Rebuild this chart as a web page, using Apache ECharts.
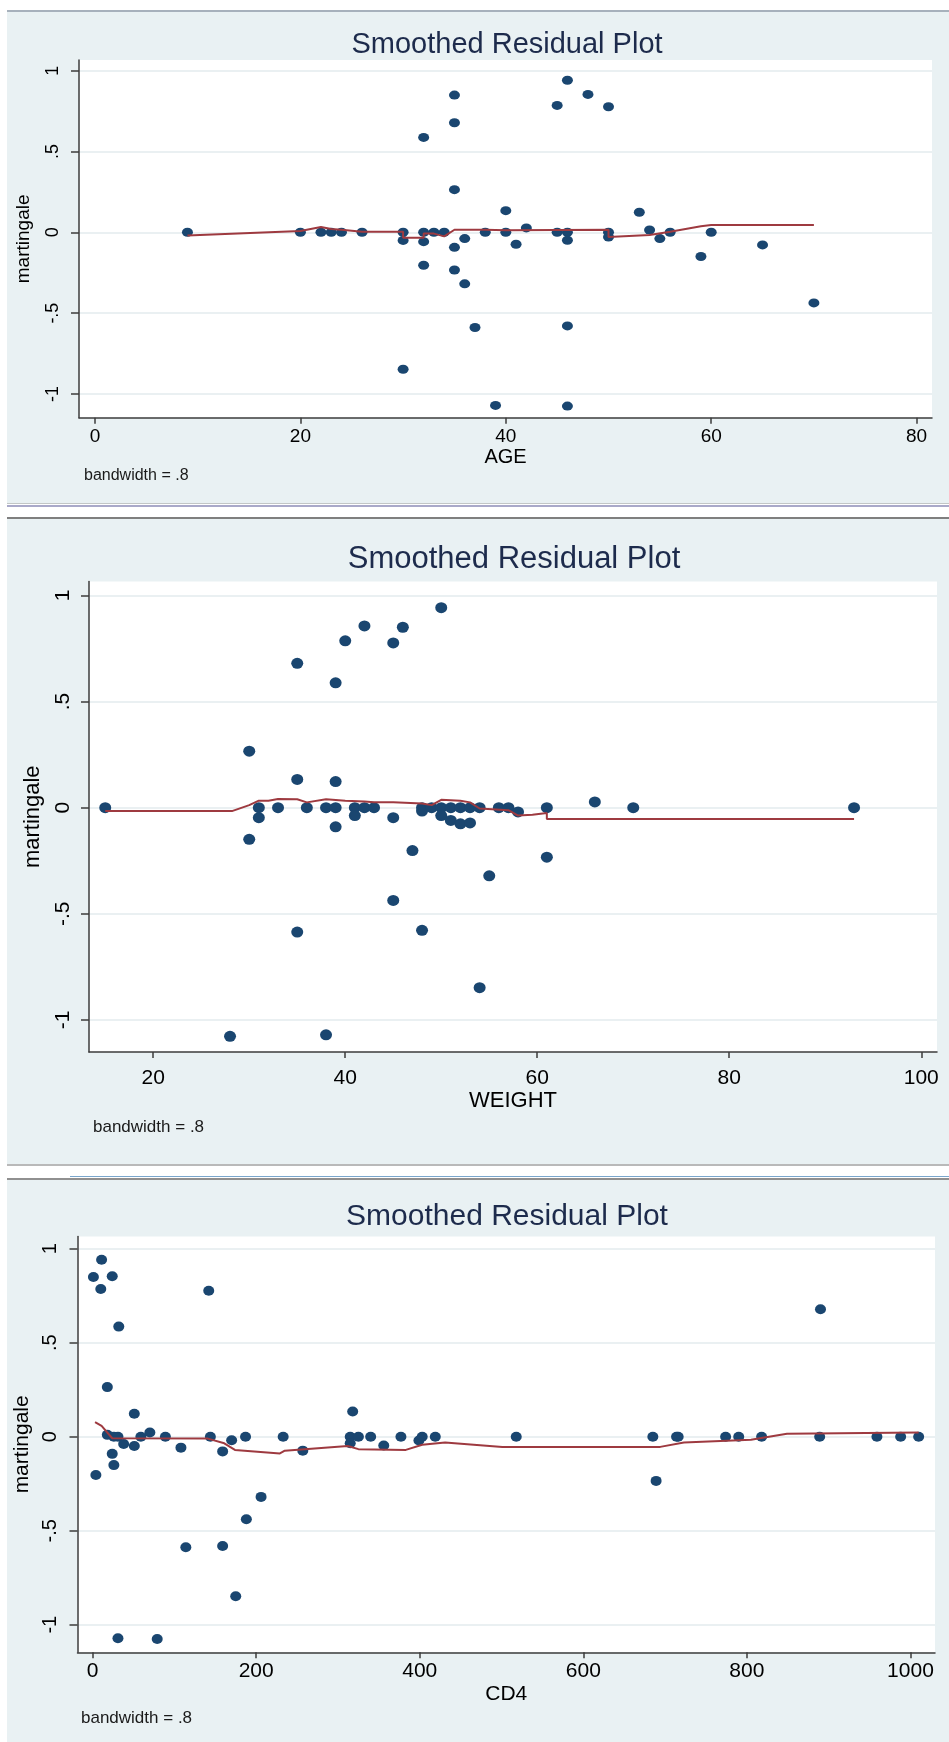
<!DOCTYPE html>
<html>
<head>
<meta charset="utf-8">
<style>
html, body { margin: 0; padding: 0; background: #fff; }
#main { width: 949px; height: 1742px; }
</style>
<script src="https://cdn.jsdelivr.net/npm/echarts@6/dist/echarts.min.js"></script>
</head>
<body>
<div id="main"></div>
<script>
// tick labels
var ageTicks = [0, 20, 40, 60, 80];
var weightTicks = [20, 40, 60, 80, 100];
var cd4Ticks = [0, 200, 400, 600, 800, 1000];
var martTicks = [-1, -0.5, 0, 0.5, 1];

// martingale residuals, [covariate, residual]
var ageResid = [
    [9, 0], [20, 0], [22, 0], [23, 0], [24, 0], [26, 0], [30, 0], [30, -0.05], [30, -0.847],
    [32, 0.587], [32, 0], [32, -0.058], [32, -0.204], [33, 0], [34, 0],
    [35, 0.849], [35, 0.678], [35, 0.264], [35, -0.093], [35, -0.233], [36, -0.039], [36, -0.319],
    [37, -0.589], [38, 0], [39, -1.071], [40, 0.134], [40, 0], [41, -0.074], [42, 0.027],
    [45, 0.785], [45, 0], [46, 0.941], [46, 0], [46, -0.049], [46, -0.579], [46, -1.075],
    [48, 0.853], [50, 0.777], [50, 0], [50, -0.029], [53, 0.124], [54, 0.014], [55, -0.039],
    [56, 0], [59, -0.15], [60, 0], [65, -0.078], [70, -0.437]
];
var ageSmooth = [
    [9, -0.02], [20, 0.008], [22, 0.033], [23, 0.02], [24, 0.016], [26, 0.004], [30, 0.004],
    [30, -0.033], [32, -0.033], [32, -0.008], [33, -0.008], [34, -0.025], [35, 0.016], [38, 0.016],
    [40, 0.012], [50, 0.016], [50, -0.029], [54, -0.016], [56, 0.004], [59, 0.037], [60, 0.045], [70, 0.045]
];

var weightResid = [
    [15, 0], [28, -1.077], [30, 0.266], [30, -0.149], [31, 0], [31, -0.047], [33, 0],
    [35, 0.68], [35, 0.133], [35, -0.586], [36, 0], [38, 0], [38, -1.07],
    [39, 0.588], [39, 0.123], [39, 0], [39, -0.09], [40, 0.786], [41, 0], [41, -0.037],
    [42, 0.856], [42, 0], [43, 0], [45, 0.776], [45, -0.047], [45, -0.437], [46, 0.85],
    [47, -0.202], [48, 0], [48, -0.016], [48, -0.578], [49, 0], [50, 0.942], [50, 0], [50, -0.037],
    [51, 0], [51, -0.06], [52, 0], [52, -0.076], [53, 0], [53, -0.072], [54, 0], [54, -0.848],
    [55, -0.321], [56, 0], [57, 0], [58, -0.02], [61, 0], [61, -0.233], [66, 0.027], [70, 0], [93, 0]
];
var weightSmooth = [
    [15, -0.016], [28.2, -0.016], [30, 0.012], [31, 0.033], [32, 0.033], [33, 0.041], [35, 0.04],
    [36, 0.025], [38, 0.04], [40, 0.033], [42, 0.029], [43, 0.025], [45, 0.025], [48, 0.02],
    [49, 0.012], [50, 0.037], [52, 0.033], [53, 0.025], [54, -0.004], [57, -0.012], [58, -0.037],
    [59.5, -0.033], [61, -0.025], [61, -0.053], [93, -0.053]
];

var cd4Resid = [
    [1, 0.85], [4, -0.204], [10, 0.786], [11, 0.942], [18, 0.264], [18, 0.01], [24, 0.854],
    [24, -0.091], [26, -0.151], [26, 0], [31, 0], [31, -1.072], [32, 0.586], [38, -0.039],
    [51, 0.122], [51, -0.049], [59, 0], [70, 0.023], [79, -1.076], [89, 0], [108, -0.058],
    [114, -0.588], [142, 0.777], [144, 0], [159, -0.078], [159, -0.581], [170, -0.019],
    [175, -0.849], [187, 0], [188, -0.439], [206, -0.32], [233, 0], [257, -0.074],
    [315, 0], [315, -0.035], [318, 0.134], [325, 0], [340, 0], [356, -0.047], [377, 0],
    [399, -0.02], [403, 0], [419, 0], [518, 0], [685, 0], [689, -0.235], [714, 0], [716, 0],
    [774, 0], [790, 0], [818, 0], [889, 0], [890, 0.678], [959, 0], [988, 0], [1010, 0]
];
var cd4Smooth = [
    [3, 0.078], [11, 0.058], [24, -0.008], [25, -0.016], [141, -0.01], [161, -0.035],
    [174, -0.07], [229, -0.089], [235, -0.074], [312, -0.049], [325, -0.066], [383, -0.07],
    [403, -0.043], [431, -0.031], [501, -0.054], [694, -0.054], [723, -0.031], [805, -0.016],
    [849, 0.016], [1010, 0.023]
];

var font = "'Liberation Sans', Arial, sans-serif";
var dotColor = "#1a4670", lineColor = "#9e3a40", titleColor = "#1d2b4c";

function martLabel(v) {
    if (v === 0) return "0";
    var s = String(Math.abs(v)).replace(/^0\./, ".");
    return v < 0 ? "-" + s : s;
}

var panels = [{
    grid: { left: 79, top: 60, width: 853, height: 357.7 },
    x: [-1.56, 81.5], y: [-1.147, 1.066], ticks: ageTicks, name: "AGE",
    resid: ageResid, smooth: ageSmooth,
    title: { x: 507, y: 30, size: 29 },
    tick: 19, xMargin: 10, nameSize: 20, nameGap: 25,
    yLab: 18, yMargin: 17, mSize: 19, mGap: 46,
    bw: { x: 84, y: 468, size: 16 }, dot: [11, 9]
}, {
    grid: { left: 89, top: 581.5, width: 848, height: 470.5 },
    x: [13.31, 101.64], y: [-1.151, 1.0655], ticks: weightTicks, name: "WEIGHT",
    resid: weightResid, smooth: weightSmooth,
    title: { x: 514, y: 544, size: 31 },
    tick: 21, xMargin: 16, nameSize: 22, nameGap: 35,
    yLab: 21, yMargin: 15, mSize: 22, mGap: 45,
    bw: { x: 93, y: 1119, size: 17 }, dot: [12, 11]
}, {
    grid: { left: 77.5, top: 1236.4, width: 857.5, height: 415.9 },
    x: [-18.46, 1030], y: [-1.147, 1.066], ticks: cd4Ticks, name: "CD4",
    resid: cd4Resid, smooth: cd4Smooth,
    title: { x: 507, y: 1202, size: 30 },
    tick: 21, xMargin: 8, nameSize: 21, nameGap: 31,
    yLab: 20, yMargin: 17, mSize: 21, mGap: 44,
    bw: { x: 81, y: 1710, size: 17 }, dot: [11, 10]
}];

var option = {
    animation: false,
    backgroundColor: "#fff",
    title: [], grid: [], xAxis: [], yAxis: [], series: [],
    graphic: [
        { type: "rect", z: -10, shape: { x: 7, y: 10, width: 942, height: 2 }, style: { fill: "#a7b1bc" } },
        { type: "rect", z: -10, shape: { x: 7, y: 12, width: 942, height: 491 }, style: { fill: "#e9f1f3" } },
        { type: "rect", z: -10, shape: { x: 7, y: 503, width: 942, height: 1 }, style: { fill: "#c2c6c6" } },
        { type: "rect", z: -10, shape: { x: 7, y: 505, width: 942, height: 2 }, style: { fill: "#a9a9c9" } },
        { type: "rect", z: -10, shape: { x: 7, y: 517, width: 942, height: 2 }, style: { fill: "#7f7f7f" } },
        { type: "rect", z: -10, shape: { x: 7, y: 519, width: 942, height: 645 }, style: { fill: "#e9f1f3" } },
        { type: "rect", z: -10, shape: { x: 7, y: 1164, width: 942, height: 2 }, style: { fill: "#b9b9b9" } },
        { type: "rect", z: -10, shape: { x: 70, y: 1176, width: 879, height: 1 }, style: { fill: "#7aa6cc" } },
        { type: "rect", z: -10, shape: { x: 7, y: 1178, width: 942, height: 2 }, style: { fill: "#909090" } },
        { type: "rect", z: -10, shape: { x: 7, y: 1180, width: 942, height: 562 }, style: { fill: "#e9f1f3" } }
    ]
};

panels.forEach(function(p, i) {
    option.title.push({
        text: "Smoothed Residual Plot",
        left: p.title.x, top: p.title.y, textAlign: "center", padding: 0,
        textStyle: { fontFamily: font, fontSize: p.title.size, fontWeight: "normal", color: titleColor }
    });
    option.grid.push({
        left: p.grid.left, top: p.grid.top, width: p.grid.width, height: p.grid.height,
        show: true, backgroundColor: "#fff", borderWidth: 0, containLabel: false
    });
    option.xAxis.push({
        type: "value", gridIndex: i, min: p.x[0], max: p.x[1],
        name: p.name, nameLocation: "middle", nameGap: p.nameGap,
        nameTextStyle: { fontFamily: font, fontSize: p.nameSize, color: "#000", verticalAlign: "top" },
        axisLine: { show: true, onZero: false, lineStyle: { color: "#3c3c3c", width: 1.5 } },
        axisTick: { show: true, length: 6, customValues: p.ticks, lineStyle: { color: "#3c3c3c", width: 1.5 } },
        axisLabel: {
            customValues: p.ticks, margin: p.xMargin, fontFamily: font, fontSize: p.tick, color: "#000",
            formatter: function(v) { return String(v); }
        },
        splitLine: { show: false }
    });
    option.yAxis.push({
        type: "value", gridIndex: i, min: p.y[0], max: p.y[1],
        name: "martingale", nameLocation: "middle", nameGap: p.mGap,
        nameTextStyle: { fontFamily: font, fontSize: p.mSize, color: "#000" },
        axisLine: { show: true, onZero: false, lineStyle: { color: "#3c3c3c", width: 1.5 } },
        axisTick: { show: true, length: 8, customValues: martTicks, lineStyle: { color: "#3c3c3c", width: 1.5 } },
        axisLabel: { customValues: martTicks, rotate: 90, margin: p.yMargin, fontFamily: font, fontSize: p.yLab, color: "#000", formatter: martLabel },
        splitLine: { show: true, lineStyle: { color: "#e3ebee", width: 1.5 } }
    });
    option.series.push({
        type: "scatter", xAxisIndex: i, yAxisIndex: i, data: p.resid,
        symbol: "circle", symbolSize: p.dot, itemStyle: { color: dotColor, opacity: 1 }, z: 2
    });
    option.series.push({
        type: "line", xAxisIndex: i, yAxisIndex: i, data: p.smooth,
        showSymbol: false, symbol: "none", lineStyle: { color: lineColor, width: 2 }, z: 3
    });
    option.graphic.push({
        type: "text", left: p.bw.x, top: p.bw.y,
        style: { text: "bandwidth = .8", fontFamily: font, fontSize: p.bw.size, fill: "#1a1a1a" }
    });
});

myChart = echarts.init(document.getElementById("main"));
option && "object" == typeof option && myChart.setOption(option, !0);
</script>
</body>
</html>
